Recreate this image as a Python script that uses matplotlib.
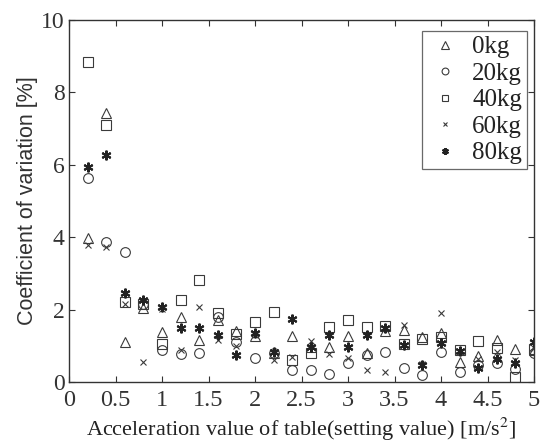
import numpy as np
import matplotlib.pyplot as plt

# 設定加速度 [m/s^2]
accel = [0.2, 0.4, 0.6, 0.8, 1.0, 1.2, 1.4, 1.6, 1.8, 2.0, 2.2, 2.4, 2.6,
         2.8, 3.0, 3.2, 3.4, 3.6, 3.8, 4.0, 4.2, 4.4, 4.6, 4.8, 5.0]

# 積載質量ごとの変動係数 [%]
cv_0kg = [3.97, 7.42, 1.10, 2.05, 1.38, 1.80, 1.16, 1.72, 1.40, 1.28, 0.80, 1.27, 0.97,
          0.97, 1.27, 0.80, 1.40, 1.44, 1.25, 1.35, 0.55, 0.72, 1.15, 0.90, 0.88]
cv_20kg = [5.63, 3.87, 3.60, 2.15, 0.88, 0.78, 0.80, 1.80, 1.10, 0.67, 0.80, 0.32, 0.34,
           0.22, 0.52, 0.75, 0.84, 0.38, 0.20, 0.84, 0.27, 0.48, 0.53, 0.35, 0.80]
cv_40kg = [8.85, 7.10, 2.20, 2.15, 1.05, 2.27, 2.82, 1.90, 1.33, 1.67, 1.94, 0.62, 0.80,
           1.52, 1.71, 1.52, 1.55, 1.05, 1.20, 1.25, 0.88, 1.12, 0.95, 0.15, 0.90]
cv_60kg = [3.78, 3.73, 2.15, 0.55, 2.03, 0.88, 2.07, 1.16, 1.00, 1.30, 0.60, 0.68, 1.12,
           0.77, 0.66, 0.33, 0.28, 1.57, 0.50, 1.90, 0.82, 0.64, 0.82, 0.60, 0.95]
cv_80kg = [5.94, 6.27, 2.46, 2.27, 2.07, 1.49, 1.49, 1.30, 0.75, 1.35, 0.84, 1.73, 0.97,
           1.30, 0.97, 1.30, 1.50, 1.02, 0.47, 1.07, 0.85, 0.40, 0.63, 0.53, 1.10]

labels = ['0kg', '20kg', '40kg', '60kg', '80kg']

serif = ['Liberation Serif', 'DejaVu Serif']
plt.rcParams['font.family'] = serif
plt.rcParams['mathtext.fontset'] = 'stix'

fig = plt.figure(figsize=(5.41, 4.42), dpi=100)
ax = fig.add_axes([69 / 541, 60 / 442, 465 / 541, 362 / 442])

col = '#3a3a3a'
ms = 7.5
ax.plot(accel, cv_0kg, linestyle='none', marker='^', ms=ms, mfc='none',
        mec=col, mew=0.8, label=labels[0])
ax.plot(accel, cv_20kg, linestyle='none', marker='o', ms=ms - 0.5, mfc='none',
        mec=col, mew=0.8, label=labels[1])
ax.plot(accel, cv_40kg, linestyle='none', marker='s', ms=ms - 0.5, mfc='none',
        mec=col, mew=0.8, label=labels[2])
ax.plot(accel, cv_60kg, linestyle='none', marker='x', ms=ms - 2.5, mec=col,
        mew=0.8, label=labels[3])
ax.plot(accel, cv_80kg, linestyle='none', marker=(6, 2, 0), ms=ms - 0.5, mec='#222222',
        mew=1.5, label=labels[4])

ax.set_xlim(0, 5)
ax.set_ylim(0, 10)
ax.set_xticks(np.arange(0, 5.01, 0.5))
ax.set_xticklabels(['0', '0.5', '1', '1.5', '2', '2.5', '3', '3.5', '4', '4.5', '5'])
ax.set_yticks([0, 2, 4, 6, 8, 10])

# 目盛り線は内向き、上と右にも表示
ax.tick_params(which='both', direction='in', top=True, right=True,
               length=4, width=0.8, colors='#333333')
ax.tick_params(axis='x', labelsize=17.5, pad=6)
ax.tick_params(axis='y', labelsize=17, pad=3)
for sp in ax.spines.values():
    sp.set_color('#333333')
    sp.set_linewidth(1.0)

ax.set_xlabel('Acceleration value of table(setting value) [m/s$^2$]',
              fontsize=16, color='#222222', labelpad=3)
ax.set_ylabel('Coefficient of variation [%]', fontsize=15.5, color='#333333',
              family=['Liberation Sans', 'DejaVu Sans'], labelpad=2)

leg = ax.legend(loc='upper right', fontsize=18, frameon=True, fancybox=False,
                edgecolor='#444444', borderpad=0.2, labelspacing=0.16,
                handlelength=1.4, handletextpad=0.4, borderaxespad=0,
                markerscale=0.7, bbox_to_anchor=(0.985, 0.97))
leg.get_frame().set_linewidth(0.9)
for t in leg.get_texts():
    t.set_color('#222222')

fig.savefig('out.png', dpi=100)
